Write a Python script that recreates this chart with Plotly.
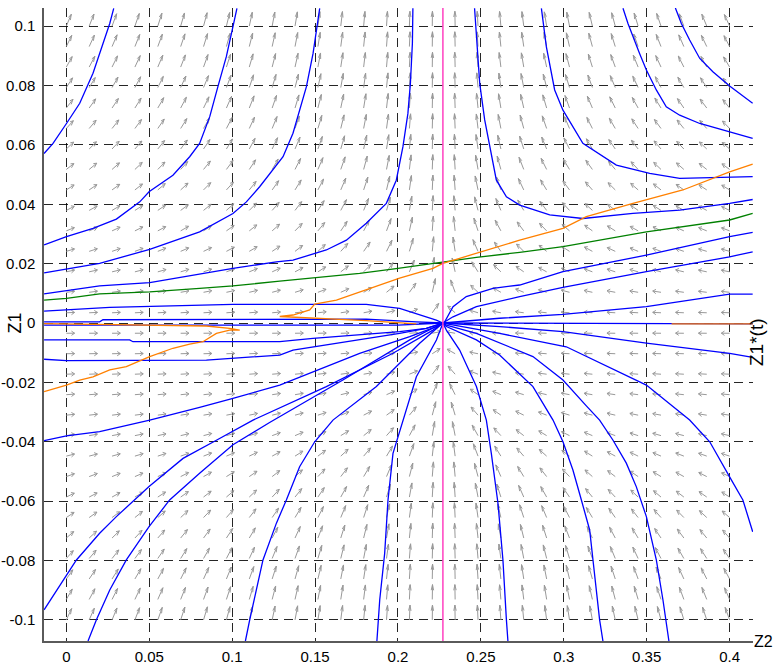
import numpy as np
import plotly.graph_objects as go

# ---------------------------------------------------------------------------
# Phase portrait in the (Z2, Z1) plane around the equilibrium Z2* = 0.2271
# ---------------------------------------------------------------------------
Z2_STAR = 0.2271

X_TICKS = [0, 0.05, 0.1, 0.15, 0.2, 0.25, 0.3, 0.35, 0.4]
X_TICK_TEXT = ["0", "0.05", "0.1", "0.15", "0.2", "0.25", "0.3", "0.35", "0.4"]
Y_TICKS = [-0.1, -0.08, -0.06, -0.04, -0.02, 0, 0.02, 0.04, 0.06, 0.08, 0.1]
Y_TICK_TEXT = ["-0.1", "-0.08", "-0.06", "-0.04", "-0.02", "0",
               "0.02", "0.04", "0.06", "0.08", "0.1"]
X_RANGE = [-0.01345, 0.4141]
Y_RANGE = [-0.1071, 0.1061]

# direction-field sample grid
Z2_GRID = np.linspace(0.0, 0.4, 30)
Z1_GRID = np.linspace(-0.1, 0.1, 30)
ARROW_LEN = 0.0050

# trajectories, (Z2, Z1) pairs
UL1 = [(-0.0134, 0.0571), (-0.0080, 0.0605), (0.0001, 0.0672), (0.0081, 0.0740),
       (0.0161, 0.0841), (0.0221, 0.0942), (0.0262, 0.1009), (0.0286, 0.1060)]
UL2 = [(-0.0134, 0.0263), (0.0001, 0.0291), (0.0161, 0.0319), (0.0302, 0.0350),
       (0.0443, 0.0408), (0.0499, 0.0442), (0.0643, 0.0498), (0.0744, 0.0560),
       (0.0804, 0.0605), (0.0865, 0.0695), (0.0915, 0.0798), (0.0965, 0.0897),
       (0.1005, 0.0998), (0.1029, 0.1060)]
UL3 = [(-0.0134, 0.0169), (0.0001, 0.0181), (0.0201, 0.0201), (0.0503, 0.0248),
       (0.0804, 0.0307), (0.1005, 0.0369), (0.1086, 0.0408), (0.1166, 0.0459),
       (0.1307, 0.0560), (0.1367, 0.0639), (0.1448, 0.0796), (0.1488, 0.0908),
       (0.1528, 0.1060)]
UL4 = [(-0.0134, 0.0098), (0.0001, 0.0109), (0.0201, 0.0125), (0.0503, 0.0136),
       (0.0804, 0.0165), (0.1005, 0.0184), (0.1267, 0.0206), (0.1367, 0.0212),
       (0.1568, 0.0246), (0.1689, 0.0279), (0.1809, 0.0336), (0.1930, 0.0403),
       (0.1990, 0.0481), (0.2030, 0.0594), (0.2060, 0.0706), (0.2075, 0.0807),
       (0.2087, 0.0942), (0.2090, 0.1060)]
L_A = [(-0.0134, 0.0040), (0.0262, 0.0053), (0.1005, 0.0063), (0.1809, 0.0063),
       (0.2010, 0.0049), (0.2131, 0.0027), (0.2231, 0.0010), (0.2271, 0.0)]
L_B = [(-0.0134, 0.0004), (0.0201, 0.0004), (0.0221, 0.0011), (0.1809, 0.0013),
       (0.2111, 0.0004), (0.2271, 0.0)]
L_C = [(-0.0134, -0.0007), (0.2000, -0.0007), (0.2271, 0.0)]
L_D = [(-0.0134, -0.0057), (0.0382, -0.0057), (0.0402, -0.0063), (0.1287, -0.0063),
       (0.1488, -0.0052), (0.2010, -0.0029), (0.2171, -0.0018), (0.2271, 0.0)]
L_E = [(-0.0134, -0.0122), (0.0001, -0.0127), (0.0845, -0.0125), (0.1005, -0.0119),
       (0.1287, -0.0108), (0.1367, -0.0091), (0.1769, -0.0057), (0.2010, -0.0035),
       (0.2171, -0.0018), (0.2271, 0.0)]
LL1 = [(-0.0134, -0.0396), (0.0001, -0.0380), (0.0201, -0.0366), (0.0503, -0.0327),
       (0.0804, -0.0284), (0.1005, -0.0254), (0.1287, -0.0209), (0.1468, -0.0169),
       (0.1769, -0.0102), (0.2071, -0.0046), (0.2232, -0.0012), (0.2271, 0.0)]
LL2 = [(-0.0134, -0.0966), (0.0001, -0.0852), (0.0061, -0.0798), (0.0201, -0.0708),
       (0.0302, -0.0652), (0.0499, -0.0551), (0.0704, -0.0456), (0.0905, -0.0395),
       (0.1126, -0.0327), (0.1568, -0.0214), (0.1970, -0.0102), (0.2211, -0.0024),
       (0.2271, 0.0)]
LL3 = [(0.0131, -0.1071), (0.0181, -0.1000), (0.0262, -0.0899), (0.0362, -0.0798),
       (0.0499, -0.0686), (0.0623, -0.0596), (0.0804, -0.0506), (0.1005, -0.0410),
       (0.1226, -0.0335), (0.1668, -0.0192), (0.2071, -0.0057), (0.2271, 0.0)]
LL4 = [(0.1080, -0.1071), (0.1106, -0.1000), (0.1186, -0.0798), (0.1267, -0.0674),
       (0.1327, -0.0596), (0.1407, -0.0484), (0.1498, -0.0400), (0.1608, -0.0327),
       (0.1870, -0.0214), (0.2131, -0.0068), (0.2271, 0.0)]
LL5 = [(0.1873, -0.1071), (0.1890, -0.0933), (0.1920, -0.0775), (0.1940, -0.0596),
       (0.1970, -0.0439), (0.2030, -0.0327), (0.2111, -0.0181), (0.2232, -0.0057),
       (0.2271, 0.0)]
LR1 = [(0.2663, -0.1071), (0.2654, -0.1000), (0.2633, -0.0798), (0.2603, -0.0607),
       (0.2563, -0.0439), (0.2533, -0.0327), (0.2473, -0.0214), (0.2372, -0.0091),
       (0.2292, -0.0024), (0.2271, 0.0)]
LR2 = [(0.3236, -0.1071), (0.3216, -0.1000), (0.3176, -0.0798), (0.3156, -0.0697),
       (0.3106, -0.0596), (0.3055, -0.0495), (0.2995, -0.0400), (0.2935, -0.0327),
       (0.2814, -0.0214), (0.2613, -0.0108), (0.2473, -0.0057), (0.2292, -0.0012),
       (0.2271, 0.0)]
LR3 = [(0.3634, -0.1071), (0.3598, -0.0933), (0.3558, -0.0798), (0.3498, -0.0652),
       (0.3437, -0.0551), (0.3377, -0.0472), (0.3296, -0.0394), (0.3216, -0.0327),
       (0.3136, -0.0279), (0.2995, -0.0192), (0.2814, -0.0113), (0.2613, -0.0068),
       (0.2473, -0.0035), (0.2292, -0.0007), (0.2271, 0.0)]
LR4 = [(0.4139, -0.0703), (0.4080, -0.0596), (0.4000, -0.0518), (0.3880, -0.0400),
       (0.3759, -0.0327), (0.3498, -0.0209), (0.3015, -0.0080), (0.2613, -0.0035),
       (0.2271, 0.0)]
LR5 = [(0.4139, -0.0116), (0.4000, -0.0102), (0.3498, -0.0068), (0.2995, -0.0029),
       (0.2613, -0.0012), (0.2271, 0.0)]
ZERO_R = [(0.4139, -0.0003), (0.2271, 0.0)]
UR_C = [(0.4139, 0.0097), (0.4000, 0.0097), (0.3498, 0.0055), (0.2995, 0.0029),
        (0.2613, 0.0016), (0.2271, 0.0)]
UR_A = [(0.4139, 0.0240), (0.4000, 0.0223), (0.3498, 0.0173), (0.2995, 0.0120),
        (0.2734, 0.0089), (0.2473, 0.0055), (0.2332, 0.0021), (0.2271, 0.0)]
UR_B = [(0.4139, 0.0305), (0.4000, 0.0291), (0.3498, 0.0229), (0.2995, 0.0173),
        (0.2734, 0.0128), (0.2573, 0.0117), (0.2412, 0.0089), (0.2332, 0.0055),
        (0.2282, 0.0004), (0.2271, 0.0)]
UR_D = [(0.4139, 0.0416), (0.4000, 0.0403), (0.3699, 0.0380), (0.3417, 0.0369),
        (0.3115, 0.0352), (0.2915, 0.0364), (0.2734, 0.0397), (0.2654, 0.0425),
        (0.2593, 0.0482), (0.2553, 0.0594), (0.2523, 0.0684), (0.2493, 0.0807),
        (0.2476, 0.0942), (0.2462, 0.1060)]
UR_E = [(0.4139, 0.0493), (0.4000, 0.0491), (0.3699, 0.0487), (0.3518, 0.0504),
        (0.3317, 0.0532), (0.3115, 0.0605), (0.2995, 0.0717), (0.2945, 0.0785),
        (0.2895, 0.0930), (0.2865, 0.1060)]
UR_F = [(0.4139, 0.0622), (0.4000, 0.0644), (0.3820, 0.0672), (0.3699, 0.0700),
        (0.3618, 0.0728), (0.3558, 0.0785), (0.3498, 0.0852), (0.3457, 0.0908),
        (0.3417, 0.0964), (0.3387, 0.1009), (0.3357, 0.1060)]
UR_G = [(0.4139, 0.0740), (0.4000, 0.0798), (0.3899, 0.0846), (0.3820, 0.0891),
        (0.3759, 0.0953), (0.3709, 0.1009), (0.3673, 0.1061)]

BLUE_PATHS = [UL1, UL2, UL3, UL4, L_A, L_B, L_C, L_D, L_E, LL1, LL2, LL3, LL4, LL5,
              LR1, LR2, LR3, LR4, LR5, ZERO_R, UR_C, UR_A, UR_B, UR_D, UR_E, UR_F, UR_G]

GREEN_PATH = [(-0.0134, 0.0077), (0.0001, 0.0083), (0.0201, 0.0098), (0.0503, 0.0105),
              (0.0804, 0.0117), (0.1005, 0.0125), (0.1287, 0.0141), (0.1488, 0.0151),
              (0.1769, 0.0167), (0.2000, 0.0184), (0.2271, 0.0206), (0.2473, 0.0221),
              (0.2734, 0.0238), (0.2995, 0.0257), (0.3498, 0.0307), (0.4000, 0.0347),
              (0.4139, 0.0369)]

ORANGE_UP = [(0.2111, -0.0003), (0.1809, 0.0008), (0.1287, 0.0022), (0.1367, 0.0027),
             (0.1468, 0.0044), (0.1498, 0.0064), (0.1629, 0.0077), (0.1809, 0.0111),
             (0.2010, 0.0151), (0.2211, 0.0184), (0.2271, 0.0201), (0.2372, 0.0218),
             (0.2533, 0.0246), (0.2734, 0.0279), (0.2995, 0.0319), (0.3136, 0.0358),
             (0.3417, 0.0403), (0.3718, 0.0448), (0.4000, 0.0509), (0.4139, 0.0535)]
ORANGE_LOW = [(-0.0134, -0.0231), (0.0001, -0.0209), (0.0081, -0.0192), (0.0161, -0.0181),
              (0.0262, -0.0158), (0.0362, -0.0147), (0.0503, -0.0113), (0.0643, -0.0085),
              (0.0744, -0.0071), (0.0824, -0.0063), (0.0905, -0.0035), (0.0985, -0.0024),
              (0.1046, -0.0024), (0.0985, -0.0018), (0.0845, -0.0010), (0.0362, -0.0005),
              (-0.0134, -0.0002)]
ORANGE_R = [(0.4139, -0.0003), (0.3650, -0.0003)]
ORANGE_PATHS = [ORANGE_UP, ORANGE_LOW, ORANGE_R]

BLUE = "#0000ff"
GREEN = "#008000"
ORANGE = "#ff8000"
MAGENTA = "#ff40c0"
ARROW_GREY = "#999999"
TICK_FONT = "Liberation Sans, Arial, sans-serif"
LABEL_FONT = "Liberation Sans, Arial, sans-serif"


def direction_field(z2, z1):
    """Right-hand side of the reduced system, sampled on the grid."""
    dz2 = -(z2 - Z2_STAR) * np.where((z2 > Z2_STAR) & (z1 > 0), 1.4, 1.0)
    dz1 = np.where(z1 >= 0, 1.5 * z1 + 150 * z1 ** 3,
                   0.2 * np.abs(z1) + 250 * np.abs(z1) ** 3)
    return dz2, dz1


def quiver_segments(z2, z1, du, dv, alpha=0.38, beta=0.38):
    """Shafts plus two-barb heads, built in data units (None-separated)."""
    xs, ys = [], []
    for x, y, u, v in zip(z2.ravel(), z1.ravel(), du.ravel(), dv.ravel()):
        tx, ty = x + u, y + v
        xs += [x, tx, None,
               tx - alpha * (u + beta * v), tx, tx - alpha * (u - beta * v), None]
        ys += [y, ty, None,
               ty - alpha * (v - beta * u), ty, ty - alpha * (v + beta * u), None]
    return xs, ys


def path_xy(path):
    return [p[0] for p in path], [p[1] for p in path]


G2, G1 = np.meshgrid(Z2_GRID, Z1_GRID)
F2, F1 = direction_field(G2, G1)
mag = np.hypot(F2, F1)
U = F2 / mag * ARROW_LEN
V = F1 / mag * ARROW_LEN
qx, qy = quiver_segments(G2, G1, U, V)

fig = go.Figure()
fig.add_trace(go.Scatter(x=qx, y=qy, mode="lines",
                         line=dict(color=ARROW_GREY, width=1), hoverinfo="skip"))

for path in BLUE_PATHS:
    px_, py_ = path_xy(path)
    fig.add_trace(go.Scatter(x=px_, y=py_, mode="lines",
                             line=dict(color=BLUE, width=1.3)))

gx, gy = path_xy(GREEN_PATH)
fig.add_trace(go.Scatter(x=gx, y=gy, mode="lines", line=dict(color=GREEN, width=1.3)))

for path in ORANGE_PATHS:
    ox, oy = path_xy(path)
    fig.add_trace(go.Scatter(x=ox, y=oy, mode="lines", line=dict(color=ORANGE, width=1.3)))

fig.add_trace(go.Scatter(x=[Z2_STAR, Z2_STAR], y=Y_RANGE, mode="lines",
                         line=dict(color=MAGENTA, width=1.5)))

axis_common = dict(
    showgrid=True, gridcolor="rgba(0,0,0,0.85)", gridwidth=1, griddash="9px,6px",
    zeroline=False, showline=True, linecolor="#5a5a5a", linewidth=1.5,
    ticks="outside", tickcolor="rgba(0,0,0,0)", automargin=False,
    tickfont=dict(family=TICK_FONT, size=15, color="black"),
)
fig.update_xaxes(range=X_RANGE, tickvals=X_TICKS, ticktext=X_TICK_TEXT,
                 ticklen=1, **axis_common)
fig.update_yaxes(range=Y_RANGE, tickvals=Y_TICKS, ticktext=Y_TICK_TEXT,
                 ticklen=4, **axis_common)

fig.update_layout(
    width=773, height=671,
    margin=dict(l=44, r=20, t=8, b=30),
    paper_bgcolor="white", plot_bgcolor="white",
    showlegend=False,
    annotations=[
        dict(text="Z2", xref="paper", yref="paper", x=1.0155, y=0.0,
             xanchor="center", yanchor="middle", showarrow=False,
             font=dict(family=LABEL_FONT, size=16, color="black")),
        dict(text="Z1", xref="paper", yref="y", x=-0.0402, y=0.0,
             xanchor="center", yanchor="middle", showarrow=False, textangle=-90,
             font=dict(family=LABEL_FONT, size=18, color="black")),
        dict(text="Z1*(t)", xref="paper", yref="y", x=1.0042, y=-0.0064,
             xanchor="center", yanchor="middle", showarrow=False, textangle=-90,
             font=dict(family=LABEL_FONT, size=19, color="black")),
    ],
)

fig.write_html("out.html")
